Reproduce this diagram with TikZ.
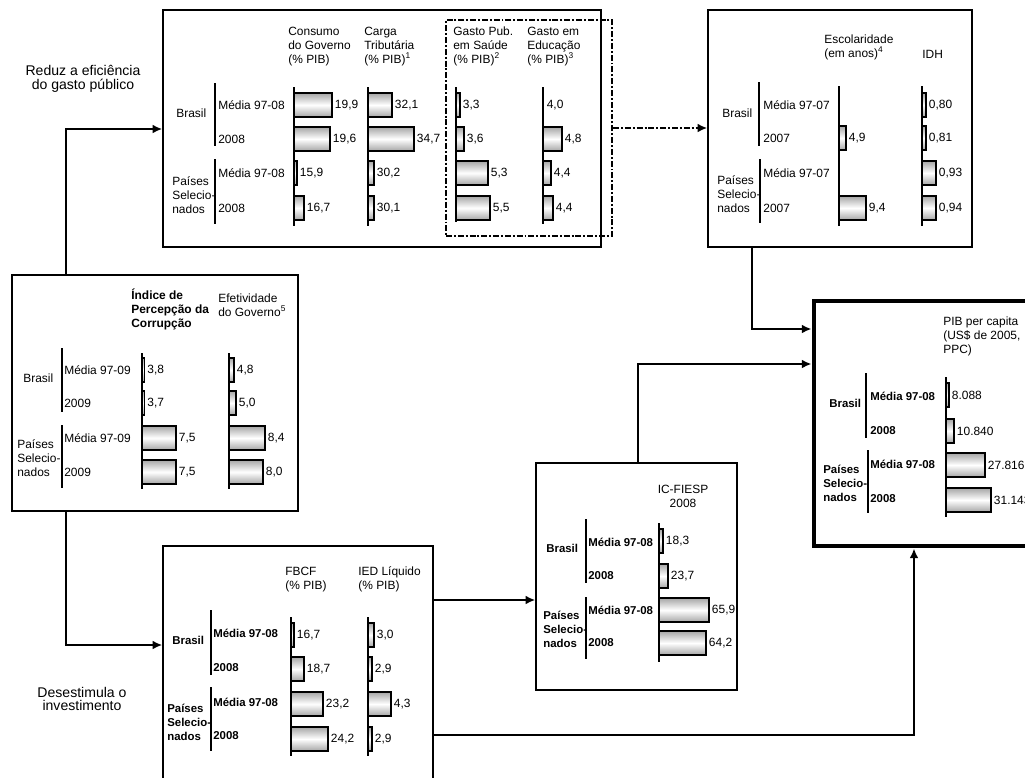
\documentclass[tikz,border=0pt]{standalone}
\usepackage{fontspec}
\setmainfont{Liberation Sans}
\usetikzlibrary{arrows.meta,fit,calc}

% one column of bars: name, axis x, axis top, axis bottom, list y/width/value
\newcommand{\datacol}[5]{%
  \draw[axis] (#2,#3) -- (#2,#4);
  \foreach \y/\w/\v [count=\i] in {#5} {
    \shade[barshade] (#2,\y-12) rectangle ++(\w,24);
    \node[val] (#1\i) at (#2+\w,\y) {\v};
  }}

\begin{document}
\begin{tikzpicture}[
    x=0.02cm, y=-0.02cm,
    >={Latex[length=5.5pt,width=5pt]},
    txt/.style={font=\fontsize{6.8}{8}\selectfont, inner sep=0pt},
    hdr/.style={txt, anchor=base west, align=left},
    rowlab/.style={txt, anchor=west},
    browlab/.style={rowlab, font=\fontsize{6.5}{8}\selectfont\bfseries},
    grplab/.style={txt, anchor=west, align=left},
    bgrplab/.style={grplab, font=\fontsize{6.5}{8}\selectfont\bfseries},
    val/.style={txt, anchor=west, inner xsep=1.5pt},
    note/.style={font=\fontsize{8}{7.8}\selectfont, align=center, inner sep=0pt},
    axis/.style={line width=0.6pt},
    barshade/.style={draw, line width=0.6pt, top color=gray!70, bottom color=gray!70, middle color=white},
    box/.style={draw, line width=0.8pt, inner sep=0pt},
    bigbox/.style={draw, line width=2.8pt, inner sep=0pt},
    dashbox/.style={draw, line width=1.3pt, inner sep=0pt, dash pattern=on 3.4pt off 1.1pt on 1.1pt off 1.1pt},
    arr/.style={->, line width=1.5pt},
    dasharr/.style={arr, dash pattern=on 3.4pt off 1.1pt on 1.1pt off 1.1pt},
  ]
  \useasboundingbox (0,0) rectangle (1025,778);
  \clip (0,0) rectangle (1025,778);

  % boxes
  \node[box, fit={(163,10) (601,247)}] (gasto) {};
  \node[dashbox, fit={(446,20) (612,236)}] (saude) {};
  \node[box, fit={(708,10) (972,247)}] (escol) {};
  \node[box, fit={(12,275) (298,511)}] (corr) {};
  \node[box, fit={(163,546) (433,800)}] (fbcf) {};
  \node[box, fit={(536,463) (737,690)}] (fiesp) {};
  \node[bigbox, fit={(814,301) (1045,546)}] (pib) {};

  % side notes
  \node[note] (reduz) at (83,79) {Reduz a eficiência\\do gasto público};
  \node[note] (desest) at (82,699) {Desestimula o\\investimento};

  % connectors
  \coordinate (jA) at (66,129);
  \coordinate (jD) at (66,645);
  \coordinate (jB) at (660,128);
  \coordinate (jP1) at (752,329);
  \coordinate (jP2) at (638,364);
  \coordinate (jE) at (480,600);
  \coordinate (jF) at (914,735);
  \draw[arr] (corr.north -| jA) |- (gasto.west |- jA);
  \draw[arr] (corr.south -| jD) |- (fbcf.west |- jD);
  \draw[dasharr] (saude.east |- jB) -- (escol.west |- jB);
  \draw[arr] (escol.south -| jP1) |- (pib.west |- jP1);
  \draw[arr] (fiesp.north -| jP2) |- (pib.west |- jP2);
  \draw[arr] (fbcf.east |- jE) -- (fiesp.west |- jE);
  \draw[arr] (fbcf.east |- jF) -| (pib.south -| jF);

  % gasto publico
  \node[grplab] (gBr) at (176,113) {Brasil};
  \node[grplab] (gPs) at (172,195) {Países\\Selecio-\\nados};
  \draw[axis] (215,83) -- (215,146);
  \draw[axis] (215,159) -- (215,224);
  \foreach \y/\t [count=\i] in {105/Média 97-08, 139/2008, 173/Média 97-08, 208/2008}
    \node[rowlab] (gR\i) at (218,\y) {\t};
  \node[hdr] (hCons) at (288,63.7) {Consumo\\do Governo\\(\% PIB)};
  \node[hdr] (hCarga) at (364,63.7) {Carga\\Tributária\\(\% PIB)\textsuperscript{1}};
  \node[hdr] (hSaude) at (453,63.7) {Gasto Pub.\\em Saúde\\(\% PIB)\textsuperscript{2}};
  \node[hdr] (hEduc) at (527,63.7) {Gasto em\\Educação\\(\% PIB)\textsuperscript{3}};
  \datacol{cons}{294}{87}{226}{105/38/{19,9}, 139/36/{19,6}, 173/3/{15,9}, 208/10/{16,7}}
  \datacol{carga}{368}{87}{226}{105/24/{32,1}, 139/46/{34,7}, 173/6/{30,2}, 208/6/{30,1}}
  \datacol{sau}{456}{87}{222}{105/4/{3,3}, 139/8/{3,6}, 173/32/{5,3}, 208/34/{5,5}}
  \datacol{edu}{543}{87}{224}{105/0.8/{4,0}, 139/19/{4,8}, 173/8/{4,4}, 208/10/{4,4}}

  % escolaridade e IDH
  \node[grplab] (eBr) at (722,113) {Brasil};
  \node[grplab] (ePs) at (717,194) {Países\\Selecio-\\nados};
  \draw[axis] (759,82) -- (759,146);
  \draw[axis] (760,159) -- (760,223);
  \foreach \y/\t [count=\i] in {105/Média 97-07, 138/2007, 173/Média 97-07, 208/2007}
    \node[rowlab] (eR\i) at (763,\y) {\t};
  \node[hdr] (hEsc) at (824,57.6) {Escolaridade\\(em anos)\textsuperscript{4}};
  \node[hdr] (hIdh) at (922,58) {IDH};
  \datacol{esc}{839}{86}{226}{138/7/{4,9}, 208/27/{9,4}}
  \datacol{idh}{922}{86}{226}{105/4/{0,80}, 138/4/{0,81}, 173/14/{0,93}, 208/14/{0,94}}

  % corrupcao
  \node[grplab] (cBr) at (23,378) {Brasil};
  \node[grplab] (cPs) at (17,458) {Países\\Selecio-\\nados};
  \draw[axis] (62,348) -- (62,412);
  \draw[axis] (62,425) -- (62,488);
  \foreach \y/\t [count=\i] in {370/Média 97-09, 403/2009, 438/Média 97-09, 472/2009}
    \node[rowlab] (cR\i) at (64,\y) {\t};
  \node[hdr, font=\fontsize{6.8}{8}\selectfont\bfseries] (hIpc) at (131,327.7) {Índice de\\Percepção da\\Corrupção};
  \node[hdr] (hEfet) at (218,316.6) {Efetividade\\do Governo\textsuperscript{5}};
  \datacol{ipc}{142}{353}{489}{370/2.5/{3,8}, 403/2.5/{3,7}, 438/34/{7,5}, 472/34/{7,5}}
  \datacol{efet}{229}{353}{489}{370/5/{4,8}, 403/7/{5,0}, 438/36/{8,4}, 472/34/{8,0}}

  % investimento
  \node[bgrplab] (fBr) at (172,640) {Brasil};
  \node[bgrplab] (fPs) at (167,722) {Países\\Selecio-\\nados};
  \draw[axis] (211,610) -- (211,675);
  \draw[axis] (211,687) -- (211,751);
  \foreach \y/\t [count=\i] in {633/Média 97-08, 668/2008, 702/Média 97-08, 736/2008}
    \node[browlab] (fR\i) at (213,\y) {\t};
  \node[hdr] (hFbcf) at (285,589.6) {FBCF\\(\% PIB)};
  \node[hdr] (hIed) at (358,589.6) {IED Líquido\\(\% PIB)};
  \datacol{fbcf}{291}{617}{756}{635/3/{16,7}, 669/13/{18,7}, 704/32/{23,2}, 739/37/{24,2}}
  \datacol{ied}{368}{617}{756}{635/6/{3,0}, 669/4/{2,9}, 704/23/{4,3}, 739/4/{2,9}}

  % IC-FIESP
  \node[bgrplab] (iBr) at (546,548) {Brasil};
  \node[bgrplab] (iPs) at (543,629) {Países\\Selecio-\\nados};
  \draw[axis] (586,519) -- (586,583);
  \draw[axis] (586,597) -- (586,659);
  \foreach \y/\t [count=\i] in {542/Média 97-08, 576/2008, 610/Média 97-08, 643/2008}
    \node[browlab] (iR\i) at (588,\y) {\t};
  \node[txt, anchor=base, align=center] (hFiesp) at (683,507.6) {IC-FIESP\\2008};
  \datacol{ic}{659}{523}{662}{541/4/{18,3}, 576/9/{23,7}, 610/50/{65,9}, 643/47/{64,2}}

  % PIB per capita
  \node[bgrplab] (pBr) at (829,403) {Brasil};
  \node[bgrplab] (pPs) at (823,483) {Países\\Selecio-\\nados};
  \draw[axis] (866,373) -- (866,438);
  \draw[axis] (868,450) -- (868,513);
  \foreach \y/\t [count=\i] in {396/Média 97-08, 431/2008, 464/Média 97-08, 499/2008}
    \node[browlab] (pR\i) at (870,\y) {\t};
  \node[hdr] (hPib) at (943,353.7) {PIB per capita\\(US\$ de 2005,\\PPC)};
  \datacol{pib}{946}{377}{517}{395/3/{8.088}, 431/8/{10.840}, 465/39/{27.816}, 500/45/{31.143}}
\end{tikzpicture}
\end{document}
